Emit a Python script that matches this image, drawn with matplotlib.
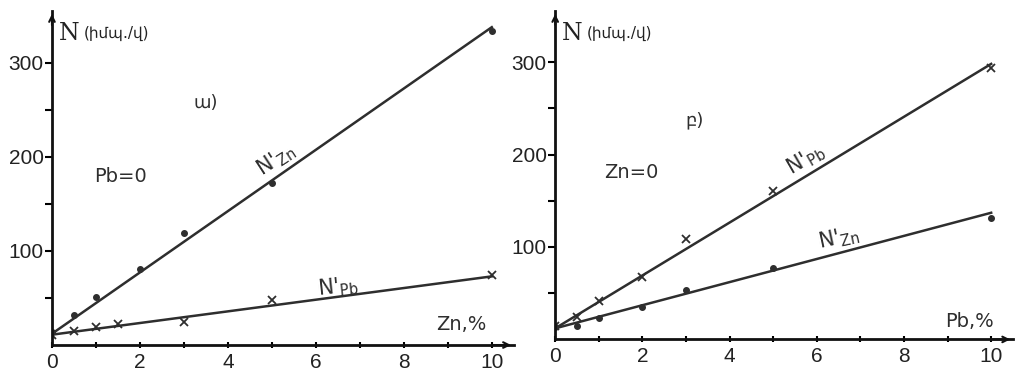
import numpy as np
import matplotlib.pyplot as plt

# panel a) : Pb = 0, x = Zn %
x_a = [0, 0.5, 1, 2, 3, 5, 10]
nzn_a = [14, 32, 51, 81, 119, 172, 334]
x_a2 = [0, 0.5, 1, 1.5, 3, 5, 10]
npb_a = [11, 15, 19, 22, 24, 48, 74]
fit_x = [0, 10]
fit_nzn_a = [12, 338]
fit_npb_a = [11, 73]

# panel b) : Zn = 0, x = Pb %
x_b = [0, 0.5, 1, 2, 3, 5, 10]
npb_b = [15, 24, 42, 67, 109, 161, 294]
nzn_b = [13, 15, 23, 35, 53, 77, 131]
fit_npb_b = [12, 298]
fit_nzn_b = [12, 137]

yticks_major = [100, 200, 300]
yticks_minor = [50, 150, 250]
xticks_major = [0, 2, 4, 6, 8, 10]
xticks_minor = [1, 3, 5, 7, 9]

col = '#2e2e2e'
lab = 'DejaVu Sans'

fig = plt.figure(figsize=(10.15, 3.73), dpi=100)
ax1 = fig.add_axes([0.0512, 0.075, 0.455, 0.895])
ax2 = fig.add_axes([0.547, 0.09, 0.451, 0.88])


def style(ax):
    ax.set_xlim(0, 10.5)
    ax.set_ylim(0, 355)
    for s in ['top', 'right']:
        ax.spines[s].set_visible(False)
    for s in ['left', 'bottom']:
        ax.spines[s].set_linewidth(2)
        ax.spines[s].set_color('#111111')
    ax.set_xticks(xticks_major)
    ax.set_xticks(xticks_minor, minor=True)
    ax.set_yticks(yticks_major)
    ax.set_yticks(yticks_minor, minor=True)
    ax.tick_params(axis='x', which='both', direction='inout', length=5, width=1.5,
                   labelsize=15, pad=3)
    ax.tick_params(axis='y', which='both', direction='out', length=5, width=1.5,
                   labelsize=15, pad=1)
    for t in ax.get_xticklabels() + ax.get_yticklabels():
        t.set_family('Liberation Sans')
        t.set_color('#222222')
    ax.patch.set_alpha(0)
    ax.annotate('', xy=(0, 1.0), xytext=(0, 0.95), xycoords='axes fraction',
                arrowprops=dict(arrowstyle='->', color='#111111', lw=1.5), annotation_clip=False)
    ax.annotate('', xy=(1.0, 0), xytext=(0.95, 0), xycoords='axes fraction',
                arrowprops=dict(arrowstyle='->', color='#111111', lw=1.5), annotation_clip=False)
    ax.text(0.15, 331, 'N', family='DejaVu Serif', fontsize=17, color='#222222', va='center')
    ax.text(0.72, 331, '(իմպ./վ)', family=lab, fontsize=11, color='#222222', va='center')


style(ax1)
style(ax2)

# panel a
ax1.plot(fit_x, fit_nzn_a, color=col, lw=1.8)
ax1.plot(fit_x, fit_npb_a, color=col, lw=1.8)
ax1.plot(x_a, nzn_a, 'o', color=col, ms=4)
ax1.plot(x_a2, npb_a, 'x', color=col, ms=6, mew=1.3)
ax1.text(5.1, 197, "N'$_{\\mathrm{Zn}}$", rotation=33, fontsize=15, family=lab,
         ha='center', va='center', color=col)
ax1.text(6.5, 62, "N'$_{\\mathrm{Pb}}$", rotation=6, fontsize=15, family=lab,
         ha='center', va='center', color=col)
ax1.text(3.5, 257, 'ա)', fontsize=13, family=lab, ha='center', va='center', color=col)
ax1.text(1.55, 179, 'Pb=0', fontsize=14, family=lab, ha='center', va='center', color=col)
ax1.text(9.3, 22, 'Zn,%', fontsize=14, family=lab, ha='center', va='center', color=col)

# panel b
ax2.plot(fit_x, fit_npb_b, color=col, lw=1.8)
ax2.plot(fit_x, fit_nzn_b, color=col, lw=1.8)
ax2.plot(x_b, npb_b, 'x', color=col, ms=6, mew=1.3)
ax2.plot(x_b, nzn_b, 'o', color=col, ms=4)
ax2.text(5.75, 194, "N'$_{\\mathrm{Pb}}$", rotation=30, fontsize=15, family=lab,
         ha='center', va='center', color=col)
ax2.text(6.5, 110, "N'$_{\\mathrm{Zn}}$", rotation=12, fontsize=15, family=lab,
         ha='center', va='center', color=col)
ax2.text(3.2, 237, 'բ)', fontsize=13, family=lab, ha='center', va='center', color=col)
ax2.text(1.75, 181, 'Zn=0', fontsize=14, family=lab, ha='center', va='center', color=col)
ax2.text(9.5, 19, 'Pb,%', fontsize=14, family=lab, ha='center', va='center', color=col)

fig.savefig('out.png', dpi=100)
